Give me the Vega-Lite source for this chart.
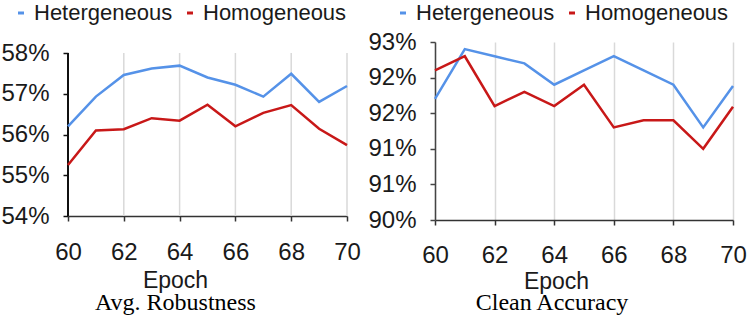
{
  "$schema": "https://vega.github.io/schema/vega-lite/v6.json",
  "padding": {"left": 0, "top": 2, "right": 0, "bottom": 0},
  "background": "white",
  "spacing": 6,
  "config": {
    "view": {"stroke": null},
    "axis": {
      "labelFont": "Liberation Sans",
      "labelFontSize": 24,
      "labelColor": "#1a1a1a",
      "labelFlush": false,
      "labelOverlap": false,
      "titleFont": "Liberation Sans",
      "titleFontSize": 23,
      "titleFontWeight": "normal",
      "titleColor": "#1a1a1a",
      "tickSize": 5,
      "tickColor": "#333333",
      "domainColor": "#333333",
      "domainWidth": 1.5,
      "tickWidth": 1.5,
      "gridColor": "#d9d9d9",
      "gridWidth": 1.5
    },
    "legend": {
      "labelFont": "Liberation Sans",
      "labelFontSize": 22,
      "labelColor": "#1a1a1a",
      "symbolType": "stroke",
      "symbolSize": 36,
      "symbolStrokeWidth": 3,
      "labelOffset": 2,
      "columnPadding": 6,
      "padding": 0
    },
    "title": {
      "font": "Liberation Serif",
      "fontSize": 24,
      "fontWeight": "normal",
      "color": "#000000"
    }
  },
  "datasets": {
    "rob": [
      {"epoch": 60, "series": "Hetergeneous", "value": 56.20},
      {"epoch": 61, "series": "Hetergeneous", "value": 56.93},
      {"epoch": 62, "series": "Hetergeneous", "value": 57.46},
      {"epoch": 63, "series": "Hetergeneous", "value": 57.62},
      {"epoch": 64, "series": "Hetergeneous", "value": 57.69},
      {"epoch": 65, "series": "Hetergeneous", "value": 57.40},
      {"epoch": 66, "series": "Hetergeneous", "value": 57.22},
      {"epoch": 67, "series": "Hetergeneous", "value": 56.93},
      {"epoch": 68, "series": "Hetergeneous", "value": 57.49},
      {"epoch": 69, "series": "Hetergeneous", "value": 56.80},
      {"epoch": 70, "series": "Hetergeneous", "value": 57.19},
      {"epoch": 60, "series": "Homogeneous", "value": 55.25},
      {"epoch": 61, "series": "Homogeneous", "value": 56.10},
      {"epoch": 62, "series": "Homogeneous", "value": 56.13},
      {"epoch": 63, "series": "Homogeneous", "value": 56.40},
      {"epoch": 64, "series": "Homogeneous", "value": 56.34},
      {"epoch": 65, "series": "Homogeneous", "value": 56.73},
      {"epoch": 66, "series": "Homogeneous", "value": 56.20},
      {"epoch": 67, "series": "Homogeneous", "value": 56.53},
      {"epoch": 68, "series": "Homogeneous", "value": 56.72},
      {"epoch": 69, "series": "Homogeneous", "value": 56.14},
      {"epoch": 70, "series": "Homogeneous", "value": 55.74}
    ],
    "acc": [
      {"epoch": 60, "series": "Hetergeneous", "value": 92.04},
      {"epoch": 61, "series": "Hetergeneous", "value": 92.88},
      {"epoch": 62, "series": "Hetergeneous", "value": 92.76},
      {"epoch": 63, "series": "Hetergeneous", "value": 92.64},
      {"epoch": 64, "series": "Hetergeneous", "value": 92.28},
      {"epoch": 65, "series": "Hetergeneous", "value": 92.52},
      {"epoch": 66, "series": "Hetergeneous", "value": 92.76},
      {"epoch": 67, "series": "Hetergeneous", "value": 92.52},
      {"epoch": 68, "series": "Hetergeneous", "value": 92.28},
      {"epoch": 69, "series": "Hetergeneous", "value": 91.56},
      {"epoch": 70, "series": "Hetergeneous", "value": 92.26},
      {"epoch": 60, "series": "Homogeneous", "value": 92.52},
      {"epoch": 61, "series": "Homogeneous", "value": 92.76},
      {"epoch": 62, "series": "Homogeneous", "value": 91.92},
      {"epoch": 63, "series": "Homogeneous", "value": 92.16},
      {"epoch": 64, "series": "Homogeneous", "value": 91.92},
      {"epoch": 65, "series": "Homogeneous", "value": 92.28},
      {"epoch": 66, "series": "Homogeneous", "value": 91.56},
      {"epoch": 67, "series": "Homogeneous", "value": 91.68},
      {"epoch": 68, "series": "Homogeneous", "value": 91.68},
      {"epoch": 69, "series": "Homogeneous", "value": 91.20},
      {"epoch": 70, "series": "Homogeneous", "value": 91.91}
    ],
    "grid": [
      {"epoch": 62}, {"epoch": 64}, {"epoch": 66}, {"epoch": 68}, {"epoch": 70}
    ]
  },
  "resolve": {"scale": {"color": "independent"}, "legend": {"color": "independent"}},
  "hconcat": [
    {
      "width": 279,
      "height": 174,
      "title": {"text": "Avg. Robustness", "orient": "bottom", "anchor": "middle", "dx": -32, "offset": -1},
      "layer": [
        {
          "data": {"name": "grid"},
          "mark": {"type": "rule", "color": "#d9d9d9", "strokeWidth": 1.5},
          "encoding": {
            "x": {"field": "epoch", "type": "quantitative", "scale": {"domain": [60, 70], "nice": false, "zero": false}, "axis": {"values": [60, 62, 64, 66, 68, 70], "title": "Epoch", "grid": false, "labelPadding": 19, "titleX": 107, "titleY": 71, "titleBaseline": "alphabetic"}},
            "y": {"datum": 54, "type": "quantitative", "scale": {"domain": [54, 58.27], "nice": false, "zero": false}, "axis": {"values": [54, 55, 56, 57, 58], "labelExpr": "format(datum.value, '.0f') + '%'", "title": null, "grid": false, "domain": false, "labelPadding": 14, "tickColor": "#111111"}},
            "y2": {"datum": 58}
          }
        },
        {
          "data": {"name": "rob"},
          "mark": {"type": "rule", "color": "#111111", "strokeWidth": 1.5},
          "encoding": {
            "x": {"datum": 60, "type": "quantitative"},
            "y": {"datum": 54, "type": "quantitative"},
            "y2": {"datum": 58}
          }
        },
        {
          "data": {"name": "rob"},
          "mark": {"type": "line", "strokeWidth": 2.5},
          "encoding": {
            "x": {"field": "epoch", "type": "quantitative", "title": "Epoch"},
            "y": {"field": "value", "type": "quantitative", "title": null},
            "color": {
              "field": "series", "type": "nominal",
              "scale": {"domain": ["Hetergeneous", "Homogeneous"], "range": ["#5592e8", "#c81818"]},
              "legend": {"orient": "none", "legendX": -58, "legendY": -40, "direction": "horizontal", "title": null}
            }
          }
        }
      ]
    },
    {
      "width": 298,
      "height": 178,
      "data": {"name": "acc"},
      "title": {"text": "Clean Accuracy", "orient": "bottom", "anchor": "middle", "dx": -32, "offset": -2},
      "mark": {"type": "line", "strokeWidth": 2.5},
      "encoding": {
        "x": {
          "field": "epoch", "type": "quantitative",
          "scale": {"domain": [60, 70], "nice": false, "zero": false},
          "axis": {"values": [60, 62, 64, 66, 68, 70], "title": "Epoch", "grid": true, "labelPadding": 18, "titleX": 121, "titleY": 68, "titleBaseline": "alphabetic"}
        },
        "y": {
          "field": "value", "type": "quantitative",
          "scale": {"domain": [90, 93], "nice": false, "zero": false},
          "axis": {"values": [90, 90.6, 91.2, 91.8, 92.4, 93], "labelExpr": "format(datum.value, '.0f') + '%'", "title": null, "grid": false, "labelPadding": 14, "domainColor": "#444444", "tickColor": "#444444"}
        },
        "color": {
          "field": "series", "type": "nominal",
          "scale": {"domain": ["Hetergeneous", "Homogeneous"], "range": ["#5592e8", "#c81818"]},
          "legend": {"orient": "none", "legendX": -43, "legendY": -40, "direction": "horizontal", "title": null}
        }
      }
    }
  ]
}
